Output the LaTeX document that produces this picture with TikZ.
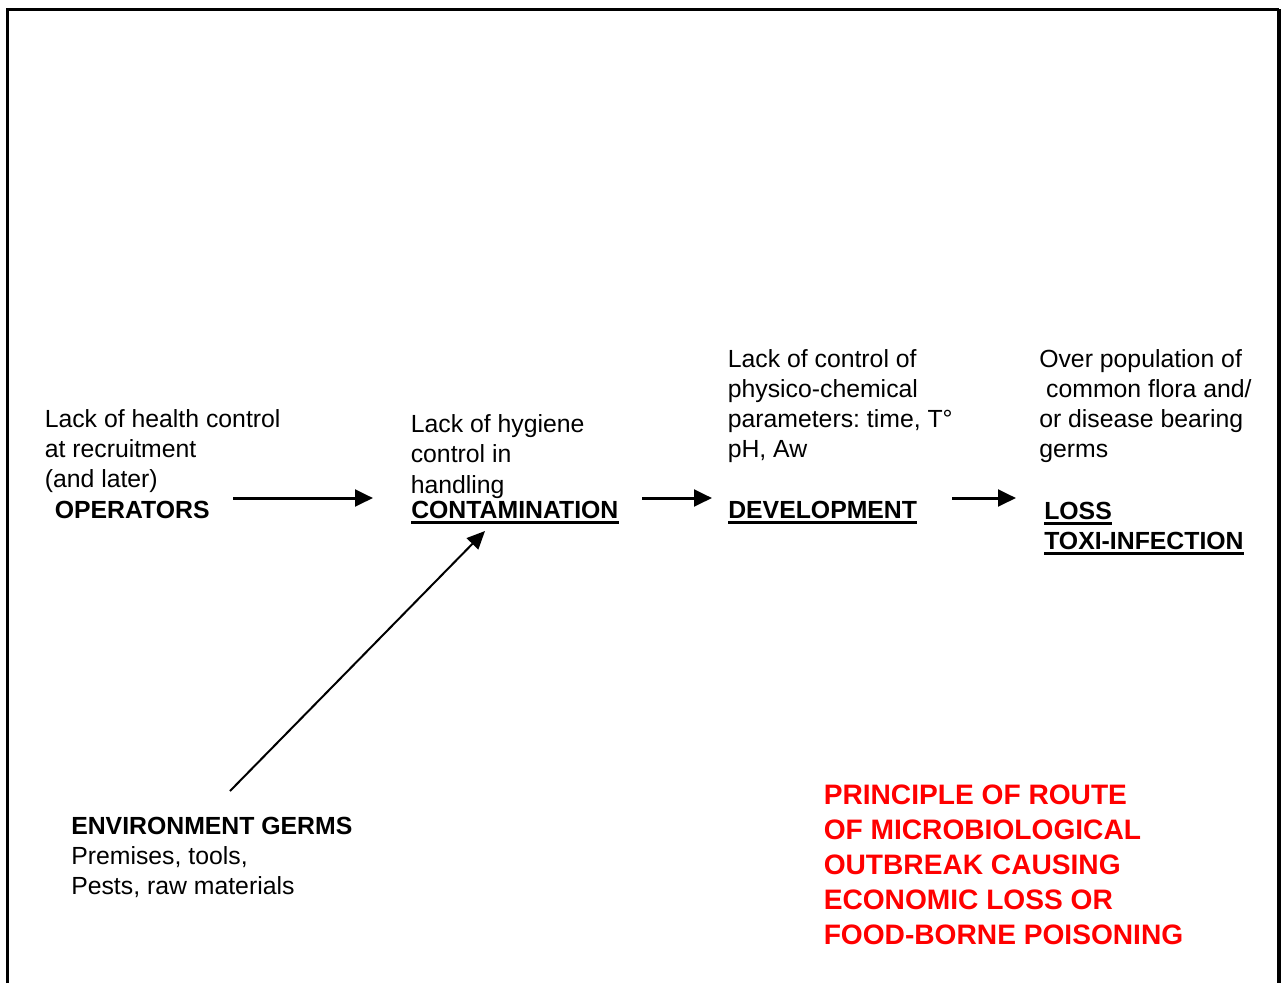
\documentclass[tikz,border=0pt]{standalone}
\usepackage{fontspec}
\setmainfont{Liberation Sans}
\usetikzlibrary{arrows.meta,calc}
\definecolor{alertred}{RGB}{255,0,0}
\frenchspacing

% stacked lines whose baseline is the baseline of the first line
\newcommand{\stacklines}[1]{\begin{tabular}[t]{@{}l@{}}#1\end{tabular}}

\begin{document}
\begin{tikzpicture}[x=0.75pt,y=-0.75pt,
  txt/.style={anchor=base west, inner sep=0pt,
    font=\fontsize{18.6pt}{22.5pt}\selectfont},
  ttl/.style={anchor=base west, inner sep=0pt,
    font=\fontsize{18.6pt}{22.5pt}\selectfont\bfseries},
  headline/.style={anchor=base west, inner sep=0pt, text=alertred,
    font=\fontsize{21.1pt}{26.25pt}\selectfont\bfseries},
  flow/.style={line width=2.25pt, -{Triangle[length=13.5pt,width=12.5pt]}},
  slant/.style={line width=1.5pt, -{Triangle[length=13.5pt,width=12pt]}},
  uline/.style={line width=2.6pt},
  frame/.style={line width=2.25pt},
]
\useasboundingbox (0,0) rectangle (1284,983);

% page frame (open at the bottom)
\draw[frame] (7.5,983) -- (7.5,9) -- (1279,9);
\draw[line width=3pt] (1279,9) -- (1279,983);

% operators
\node[txt] (opdesc) at (44.5,427) {\stacklines{Lack of health control\\at recruitment\\(and later)}};
\node[ttl] (ops) at (54.5,518) {OPERATORS};

% contamination
\node[txt] (contdesc) at (410.5,432) {\stacklines{Lack of hygiene\\control in}};
\node[txt] (handling) at (410.5,493) {handling};
\node[ttl] (cont) at (411,518) {CONTAMINATION};

% development
\node[txt] (devdesc) at (727.5,367) {\stacklines{Lack of control of\\physico-chemical\\parameters: time, T°\\pH, Aw}};
\node[ttl] (dev) at (728,518) {DEVELOPMENT};

% loss
\node[txt] (lossdesc) at (1039,367) {\stacklines{Over population of\\\hspace*{.278em}common flora and/\\or disease bearing\\germs}};
\node[ttl] (loss) at (1044,519) {LOSS};
\node[ttl] (toxi) at (1044,549) {TOXI-INFECTION};

% environment
\node[ttl] (env) at (71,834) {ENVIRONMENT GERMS};
\node[txt] (envdesc) at (71,864) {\stacklines{Premises, tools,\\Pests, raw materials}};

% title
\node[headline] (title) at (823.5,804) {\stacklines{PRINCIPLE OF ROUTE\\OF MICROBIOLOGICAL\\OUTBREAK CAUSING\\ECONOMIC LOSS OR\\FOOD-BORNE POISONING}};

% underlines
\foreach \n in {cont,dev,loss,toxi}
  \draw[uline] ($(\n.base west)+(0,4.5)$) -- ($(\n.base east)+(0,4.5)$);

% connector end points
\coordinate (a1s) at (233,498);
\coordinate (a1e) at (373,498);
\coordinate (a2s) at (642,498);
\coordinate (a2e) at (712,498);
\coordinate (a3s) at (952,498);
\coordinate (a3e) at (1016,498);
\coordinate (a4s) at (230,791);
\coordinate (a4e) at (485,531);

\draw[flow] (a1s) -- (a1e);
\draw[flow] (a2s) -- (a2e);
\draw[flow] (a3s) -- (a3e);
\draw[slant] (a4s) -- (a4e);
\end{tikzpicture}
\end{document}
